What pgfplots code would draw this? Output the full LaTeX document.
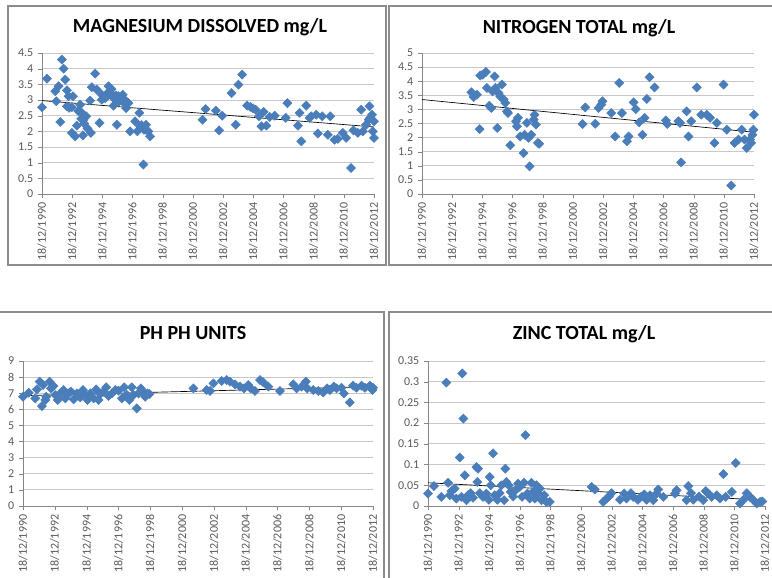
\documentclass[border=0pt]{standalone}
\usepackage{pgfplots}
\pgfplotsset{compat=1.18}
\usepackage{fontspec}
\setmainfont{Carlito}
\definecolor{mblue}{RGB}{74,126,187}
\definecolor{gridgray}{RGB}{200,200,200}
\definecolor{axisgray}{RGB}{134,134,134}
\definecolor{labgray}{RGB}{89,89,89}
\definecolor{framegray}{RGB}{140,140,140}
\pgfplotsset{
  panel/.style={
    scale only axis,
    axis x line=bottom, axis y line=left,
    axis line style={draw=axisgray, -},
    xmin=0, xmax=22, ymin=0,
    xtick={0,2,...,22},
    xticklabels={18/12/1990,18/12/1992,18/12/1994,18/12/1996,18/12/1998,18/12/2000,18/12/2002,18/12/2004,18/12/2006,18/12/2008,18/12/2010,18/12/2012},
    x tick label style={rotate=90, anchor=east, font=\fontsize{9}{10}\selectfont, text=labgray},
    y tick label style={font=\fontsize{9}{10}\selectfont, text=labgray},
    ymajorgrids, grid style={draw=gridgray, line width=0.7pt},
    tick style={draw=axisgray},
    major tick length=3pt, tick align=outside,
    /pgf/number format/assume math mode=true,
    scaled y ticks=false,
    clip=false,
  },
  dots/.style={only marks, mark=square*, mark size=2.4pt, mark options={rotate=45, fill=mblue, draw=mblue}},
  trend/.style={black, line width=0.5pt, no marks},
}
\begin{document}
\begin{tikzpicture}
\useasboundingbox (0,0) rectangle (579pt,433.5pt);
\fill[white] (0,0) rectangle (579pt,433.5pt);
\draw[framegray, line width=0.8pt] (6pt,429pt) rectangle (289.5pt,234.75pt);
\draw[framegray, line width=0.8pt] (291.75pt,429pt) rectangle (585pt,234.75pt);
\draw[framegray, line width=0.8pt] (-3pt,199.5pt) rectangle (288pt,-3pt);
\draw[framegray, line width=0.8pt] (291.75pt,199.5pt) rectangle (585pt,-3pt);

\node[anchor=base, font=\bfseries\fontsize{15}{18}\selectfont] at (150pt,408.75pt) {MAGNESIUM DISSOLVED mg/L};
\node[anchor=base, font=\bfseries\fontsize{15}{18}\selectfont] at (434.25pt,408.5pt) {NITROGEN TOTAL mg/L};
\node[anchor=base, font=\bfseries\fontsize{15}{18}\selectfont] at (144.75pt,178.5pt) {PH PH UNITS};
\node[anchor=base, font=\bfseries\fontsize{15}{18}\selectfont] at (438pt,178.5pt) {ZINC TOTAL mg/L};

% Magnesium
\begin{axis}[panel, at={(31.5pt,288pt)}, anchor=south west, width=249pt, height=105.75pt,
  ymax=4.5, ytick={0,0.5,...,4.5}]
\addplot[dots] table {
x y
0 2.77
0.33 3.68
0.88 3.28
0.95 2.96
1.10 3.44
1.21 2.30
1.32 4.29
1.43 4.00
1.54 3.65
1.65 3.31
1.76 3.12
1.65 2.80
1.80 2.75
1.98 2.77
2.05 3.12
1.98 1.95
2.20 1.84
2.31 2.18
2.40 2.65
2.53 2.85
2.60 2.40
2.64 2.59
2.75 2.37
2.80 2.25
2.71 1.87
2.93 2.48
3.02 2.09
3.19 2.98
3.30 3.41
3.24 1.95
3.52 3.84
3.63 3.33
3.81 2.27
3.96 3.17
3.96 3.01
4.19 3.06
4.30 3.20
4.41 3.44
4.52 3.24
4.60 3.35
4.63 3.12
4.74 2.82
4.85 3.01
4.90 3.15
4.96 2.21
5.07 3.12
5.10 2.95
5.22 3.01
5.30 3.05
5.35 3.17
5.44 2.90
5.50 3.00
5.57 2.74
5.73 2.90
5.84 2.00
6.17 2.32
6.32 2.00
6.45 2.59
6.50 2.16
6.60 2.20
6.72 0.94
6.76 2.05
6.89 2.21
6.90 2.05
7.05 2.00
7.16 1.84
10.64 2.37
10.84 2.71
11.52 2.66
11.74 2.03
11.94 2.50
12.56 3.22
12.84 2.21
13.02 3.49
13.26 3.81
13.59 2.82
13.81 2.78
13.99 2.73
14.16 2.69
14.38 2.48
14.54 2.16
14.69 2.62
14.87 2.18
15.09 2.46
15.42 2.50
16.15 2.43
16.26 2.90
16.96 2.18
17.07 2.59
17.18 1.68
17.51 2.82
17.73 2.43
17.84 2.48
18.17 2.53
18.28 1.93
18.57 2.48
18.94 1.89
19.10 2.48
19.38 1.73
19.60 1.76
19.93 1.95
20.15 1.79
20.48 0.83
20.64 2.03
20.93 1.95
21.15 2.69
21.26 2.00
21.48 2.21
21.65 2.37
21.70 2.80
21.74 2.43
21.87 2.53
21.92 2.00
22.00 1.79
22.00 2.32
};
\addplot[trend] coordinates {(0,2.98) (22,2.14)};
\end{axis}

% Nitrogen
\begin{axis}[panel, at={(316.5pt,288pt)}, anchor=south west, width=249pt, height=105.75pt,
  ymax=5, ytick={0,0.5,...,5}]
\addplot[dots] table {
x y
3.27 3.61
3.42 3.44
3.64 3.52
3.82 2.30
3.86 4.20
4.02 4.23
4.24 4.33
4.30 3.76
4.46 3.13
4.59 3.05
4.68 3.64
4.81 4.17
4.86 3.76
4.99 2.34
5.08 3.58
5.19 3.46
5.30 3.88
5.41 3.35
5.52 3.23
5.63 2.93
5.70 2.87
5.85 1.73
6.23 2.58
6.36 2.70
6.29 2.40
6.51 2.04
6.73 1.45
6.80 2.10
6.95 2.52
7.06 1.99
7.13 0.98
7.24 2.10
7.40 2.64
7.46 2.81
7.55 2.46
7.68 1.81
7.77 1.78
10.64 2.48
10.82 3.07
11.48 2.49
11.70 3.05
11.88 3.17
11.96 3.29
12.54 2.87
12.80 2.04
13.07 3.94
13.25 2.87
13.58 1.87
13.69 2.04
14.02 3.25
14.17 3.01
14.39 2.54
14.61 2.10
14.75 2.70
14.90 3.37
15.08 4.14
15.41 3.78
16.16 2.61
16.25 2.48
16.99 2.58
17.10 2.52
17.17 1.12
17.53 2.93
17.66 2.04
17.84 2.58
18.21 3.78
18.50 2.81
18.87 2.81
19.09 2.70
19.38 1.81
19.54 2.52
19.98 3.88
20.20 2.28
20.49 0.30
20.71 1.81
20.97 1.93
21.19 2.28
21.37 1.93
21.52 1.63
21.74 1.93
21.81 1.81
21.90 2.10
21.96 2.28
22.00 2.81
};
\addplot[trend] coordinates {(0,3.35) (22,2.19)};
\end{axis}

% pH
\begin{axis}[panel, at={(17.25pt,54pt)}, anchor=south west, width=262.5pt, height=108.75pt,
  ymax=9, ytick={0,1,...,9}]
\addplot[dots] table {
x y
0 6.78
0.36 7.03
0.77 6.68
0.88 7.24
1.05 7.72
1.19 6.20
1.26 7.51
1.40 6.58
1.46 6.78
1.67 7.72
1.76 7.30
1.92 7.45
2.03 6.89
2.18 6.58
2.34 6.99
2.55 7.20
2.66 6.68
2.87 6.99
3.01 7.10
3.18 6.62
3.39 6.99
3.60 6.74
3.77 7.20
3.91 6.89
4.06 6.58
4.23 6.99
4.44 6.68
4.60 7.24
4.75 6.58
4.85 6.95
5.06 7.10
5.23 7.37
5.38 6.83
5.59 6.99
5.80 7.20
6.00 7.16
6.21 6.68
6.36 7.37
6.53 6.89
6.69 6.58
6.84 7.37
6.95 6.89
7.15 6.06
7.26 6.99
7.41 7.30
7.53 7.10
7.68 6.78
7.82 6.99
7.95 6.95
10.71 7.30
11.55 7.20
11.76 7.14
11.97 7.61
12.49 7.76
12.80 7.82
13.01 7.72
13.33 7.55
13.64 7.41
13.89 7.30
14.16 7.51
14.31 7.30
14.58 7.14
14.90 7.82
15.10 7.68
15.42 7.41
16.15 7.14
16.99 7.55
17.20 7.30
17.51 7.41
17.78 7.72
17.87 7.30
18.24 7.20
18.56 7.14
18.87 7.05
19.12 7.30
19.29 7.20
19.54 7.41
19.71 7.30
20.02 7.34
20.17 6.99
20.54 6.43
20.75 7.47
20.96 7.34
21.28 7.47
21.49 7.34
21.80 7.47
21.97 7.20
22.00 7.34
};
\addplot[trend] coordinates {(0,6.85) (22,7.41)};
\end{axis}

% Zinc
\begin{axis}[panel, at={(321pt,54pt)}, anchor=south west, width=252.75pt, height=108.75pt,
  ymax=0.35, ytick={0,0.05,0.1,0.15,0.2,0.25,0.3,0.35},
  yticklabels={0,0.05,0.1,0.15,0.2,0.25,0.3,0.35}]
\addplot[dots] table {
x y
0 0.030
0.39 0.048
0.87 0.022
1.20 0.298
1.31 0.056
1.42 0.026
1.53 0.036
1.74 0.042
1.85 0.018
2.07 0.117
2.18 0.022
2.24 0.320
2.31 0.211
2.40 0.074
2.51 0.014
2.61 0.026
2.79 0.031
2.94 0.020
3.16 0.094
3.27 0.090
3.22 0.058
3.38 0.031
3.59 0.022
3.81 0.030
3.97 0.015
4.03 0.070
4.10 0.050
4.25 0.127
4.36 0.026
4.53 0.015
4.68 0.031
4.79 0.050
4.97 0.014
5.05 0.090
5.12 0.058
5.27 0.050
5.40 0.034
5.56 0.023
5.71 0.038
5.88 0.054
5.99 0.046
6.14 0.022
6.27 0.056
6.36 0.171
6.49 0.030
6.64 0.018
6.75 0.056
6.86 0.034
6.97 0.018
7.08 0.050
7.19 0.031
7.30 0.042
7.41 0.014
7.59 0.026
7.73 0.010
7.95 0.010
10.68 0.046
10.89 0.040
11.44 0.010
11.66 0.018
11.81 0.023
11.98 0.031
12.53 0.015
12.81 0.030
12.96 0.018
13.25 0.031
13.40 0.022
13.70 0.015
13.90 0.022
14.12 0.028
14.27 0.015
14.49 0.026
14.71 0.014
14.92 0.030
15.03 0.040
15.36 0.022
16.12 0.030
16.23 0.038
16.88 0.014
16.99 0.048
17.17 0.031
17.32 0.015
17.69 0.023
17.97 0.014
18.13 0.036
18.30 0.030
18.52 0.022
18.85 0.026
19.06 0.018
19.28 0.077
19.43 0.022
19.83 0.034
20.09 0.104
20.37 0.006
20.59 0.015
20.81 0.031
21.02 0.022
21.24 0.014
21.46 0.006
21.68 0.010
21.83 0.011
};
\addplot[trend] coordinates {(0,0.056) (22,0.014)};
\end{axis}
\end{tikzpicture}
\end{document}
